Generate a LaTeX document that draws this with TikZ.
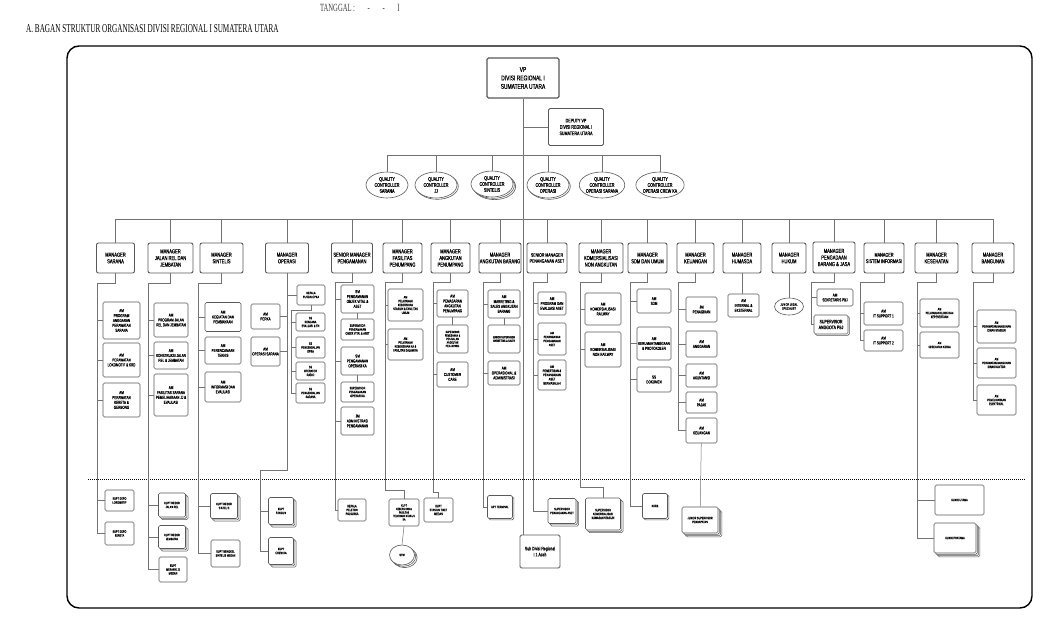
\documentclass[tikz,border=0pt]{standalone}
\usepackage{fontspec}
\setmainfont{Liberation Serif}
\newfontfamily\orgfont[FakeStretch=0.7,FakeBold=0.3]{Liberation Sans}
\newfontfamily\headfont[FakeStretch=0.6]{Liberation Serif}
\usetikzlibrary{shapes.geometric}
\usetikzlibrary{shadows}

\begin{document}
\begin{tikzpicture}[x=1pt,y=-1pt,
    every node/.style={inner sep=0pt,align=center},
    ln/.style={draw=black!55,line width=.5pt},
    box/.style={draw=black!65,line width=.6pt,rounded corners=1.5pt,fill=white,
        font=\orgfont\fontsize{4.3}{4.9}\selectfont},
    smalltxt/.style={font=\orgfont\fontsize{3.4}{3.9}\selectfont},
    mgr/.style={box,line width=.9pt,rounded corners=2pt,
        font=\orgfont\fontsize{5.8}{6.6}\selectfont},
    qc/.style={ellipse,draw=black!65,line width=.6pt,fill=white,
        minimum width=42pt,minimum height=26pt,
        font=\orgfont\fontsize{5.2}{6}\selectfont},
    wh/.style 2 args={minimum width=#1pt,minimum height=#2pt},
    stk1/.style={copy shadow={shadow xshift=1.3pt,shadow yshift=-1.3pt,
        opacity=1,fill=white,draw=black!65,line width=.6pt}},
    stk/.style={copy shadow={shadow xshift=2.6pt,shadow yshift=-2.6pt,
        opacity=1,fill=white,draw=black!65,line width=.6pt},stk1},
    stk3/.style={copy shadow={shadow xshift=3.9pt,shadow yshift=-3.9pt,
        opacity=1,fill=white,draw=black!65,line width=.6pt},stk}]

    \fill[white] (0,0) rectangle (1057,619);
    \useasboundingbox (0,0) rectangle (1057,619);

    \node[anchor=base west,text=black!75,font=\headfont\fontsize{11}{11}\selectfont] (tgl) at (320,11) {TANGGAL : \quad - \quad - \quad I};
    \node[anchor=west,font=\headfont\fontsize{12}{12}\selectfont] (title) at (26,29)
        {A. BAGAN STRUKTUR ORGANISASI DIVISI REGIONAL I SUMATERA UTARA};
    \draw[line width=1.4pt,rounded corners=12pt] (67,46) rectangle (1032,608);

    % pimpinan
    \node[box,wh={72}{40},line width=1.1pt,font=\orgfont\fontsize{7}{8.5}\selectfont] (vp) at (523,78)
        {VP\\DIVISI REGIONAL I\\SUMATERA UTARA};
    \node[box,wh={55}{37},line width=.9pt,font=\orgfont\fontsize{5.2}{6.4}\selectfont] (dvp) at (576,127)
        {DEPUTY VP\\DIVISI REGIONAL I\\SUMATERA UTARA};
    \coordinate (qcbus) at (0,155);
    \coordinate (mbus) at (0,219);

    \node[qc] (qc1) at (387,185) {QUALITY\\CONTROLLER\\SARANA};
    \node[qc,stk1] (qc2) at (436,185) {QUALITY\\CONTROLLER\\JJ};
    \node[qc,stk] (qc3) at (492,184) {QUALITY\\CONTROLLER\\SINTELIS};
    \node[qc,stk1] (qc4) at (548,185) {QUALITY\\CONTROLLER\\OPERASI};
    \node[qc] (qc5) at (602,185) {QUALITY\\CONTROLLER\\OPERASI SARANA};
    \node[qc] (qc6) at (660,185) {QUALITY\\CONTROLLER\\OPERASI CREW KA};

    % manager
    \node[mgr,wh={38}{30}] (sarana) at (115.5,258) {MANAGER\\SARANA};
    \node[mgr,wh={45}{30}] (jalanrel) at (170.5,258) {MANAGER\\JALAN REL DAN\\JEMBATAN};
    \node[mgr,wh={43}{30}] (sintelis) at (221.5,258) {MANAGER\\SINTELIS};
    \node[mgr,wh={43}{30}] (operasi) at (287,258) {MANAGER\\OPERASI};
    \node[mgr,wh={41}{30}] (pengamanan) at (352,258) {SENIOR MANAGER\\PENGAMANAN};
    \node[mgr,wh={39}{30}] (fasilitas) at (402.5,258) {MANAGER\\FASILITAS\\PENUMPANG};
    \node[mgr,wh={39}{30}] (angkpen) at (450.5,258) {MANAGER\\ANGKUTAN\\PENUMPANG};
    \node[mgr,wh={42}{30}] (angkbar) at (500,258) {MANAGER\\ANGKUTAN BARANG};
    \node[mgr,wh={40}{30},font=\orgfont\fontsize{5}{6}\selectfont] (penaset) at (547,258) {SENIOR MANAGER\\PENANGANAN ASET};
    \node[mgr,wh={44}{30}] (komersial) at (601,258) {MANAGER\\KOMERSIALISASI\\NON ANGKUTAN};
    \node[mgr,wh={39}{30}] (sdmumum) at (647.5,258) {MANAGER\\SDM DAN UMUM};
    \node[mgr,wh={37}{30}] (keuangan) at (695.5,258) {MANAGER\\KEUANGAN};
    \node[mgr,wh={38}{30}] (humasda) at (742,258) {MANAGER\\HUMASDA};
    \node[mgr,wh={34}{30}] (hukum) at (789,258) {MANAGER\\HUKUM};
    \node[mgr,wh={42}{31}] (pengadaan) at (834,257.5) {MANAGER\\PENGADAAN\\BARANG \& JASA};
    \node[mgr,wh={40}{30},font=\orgfont\fontsize{5.4}{6.4}\selectfont] (sisinfo) at (884,258) {MANAGER\\SISTEM INFORMASI};
    \node[mgr,wh={43}{30}] (kesehatan) at (936.5,258) {MANAGER\\KESEHATAN};
    \node[mgr,wh={42}{30}] (bangunan) at (993,258) {MANAGER\\BANGUNAN};

    \draw[dash pattern=on 1pt off 1pt,line width=.9pt] (88,479) -- (1025,479);

    % sarana
    \node[box,wh={37}{37}] (sar1) at (121.5,320.5) {AM\\PROGRAM\\ANGGARAN\\PERAWATAN\\SARANA};
    \node[box,wh={37}{34}] (sar2) at (121.5,360) {AM\\PERAWATAN\\LOKOMOTIF \& KRD};
    \node[box,wh={37}{34}] (sar3) at (121.5,400) {AM\\PERAWATAN\\KERETA \&\\GERBONG};
    \node[box,wh={29}{21},smalltxt] (sar4) at (119.5,500.5) {KUPT DEPO\\LOKOMOTIF};
    \node[box,wh={29}{23},smalltxt] (sar5) at (119.5,533.5) {KUPT DEPO\\KERETA};

    % jalan rel dan jembatan
    \node[box,wh={34}{34}] (jrj1) at (171,320) {AM\\PROGRAM JALAN\\REL DAN JEMBATAN};
    \node[box,wh={34}{27}] (jrj2) at (171,355.5) {AM\\KONSTRUKSI JALAN\\REL \& JEMBATAN};
    \node[box,wh={34}{42}] (jrj3) at (171,395) {AM\\FASILITAS SARANA\\PEMELIHARAAN JJ \&\\EVALUASI};
    \node[box,wh={27}{24},smalltxt,stk] (jrj4) at (172,505) {KUPT RESOR\\JALAN REL};
    \node[box,wh={27}{23},smalltxt,stk] (jrj5) at (172,537) {KUPT RESOR\\JEMBATAN};
    \node[box,wh={28}{25},smalltxt] (jrj6) at (173,569.5) {KUPT\\MEKANIK JJ\\MEDAN};

    % sintelis
    \node[box,wh={36}{29}] (snt1) at (223,317) {AM\\KEGIATAN DAN\\PEMBIAYAAN};
    \node[box,wh={36}{27}] (snt2) at (223,350.5) {AM\\PERENCANAAN\\TEKNIS};
    \node[box,wh={36}{30}] (snt3) at (223,387) {AM\\INFORMASI DAN\\EVALUASI};
    \node[box,wh={27}{25},smalltxt,stk] (snt4) at (224,506) {KUPT RESOR\\SINTELIS};
    \node[box,wh={29}{27},smalltxt] (snt5) at (225.5,553.5) {KUPT BENGKEL\\SINTELIS MEDAN};

    % operasi
    \node[box,wh={29}{25}] (ops1) at (265.5,316.5) {AM\\PERKA};
    \node[box,wh={29}{29}] (ops2) at (265.5,351.5) {AM\\OPERASI SARANA};
    \node[box,wh={28}{20},smalltxt] (ops3) at (311,295) {KEPALA\\PUSDALOPKA};
    \node[box,wh={29}{18},smalltxt] (ops4) at (310.5,322) {SS\\RENCANA\\EVALUASI \& TN};
    \node[box,wh={29}{21},smalltxt] (ops5) at (310.5,347.5) {SS\\PENGENDALIAN\\OPKA};
    \node[box,wh={29}{18},smalltxt] (ops6) at (310.5,371) {SS\\OPERATOR\\RADIO};
    \node[box,wh={29}{20},smalltxt] (ops7) at (310.5,393) {SS\\PENGENDALIAN\\SARANA};
    \node[box,wh={25}{27},smalltxt,stk] (ops8) at (281,511) {KUPT\\STASIUN};
    \node[box,wh={25}{27},smalltxt,stk] (ops9) at (281,551) {KUPT\\CREW KA};

    % pengamanan
    \node[box,wh={33}{28}] (pgm1) at (357.5,299) {SM\\PENGAMANAN\\OBJEK VITAL \&\\ASET};
    \node[box,wh={33}{21},smalltxt] (pgm2) at (357.5,329.5) {SUPERVISOR\\PENGAMANAN\\OBJEK VITAL \& ASET};
    \node[box,wh={33}{28}] (pgm3) at (357.5,361) {SM\\PENGAMANAN\\OPERASI KA};
    \node[box,wh={33}{20},smalltxt] (pgm4) at (357.5,392) {SUPERVISOR\\PENGAMANAN\\OPERASI KA};
    \node[box,wh={33}{28}] (pgm5) at (357.5,421) {JM\\ADMINISTRASI\\PENGAMANAN};
    \node[box,wh={28}{22},smalltxt] (pgm6) at (352,510) {KEPALA\\PELETON\\POLSUSKA};

    % fasilitas penumpang
    \node[box,wh={35}{32},smalltxt] (fas1) at (405.5,305) {AM\\PELAYANAN\\KEBERSIHAN\\STASIUN \& FASILITAS\\UMUM};
    \node[box,wh={35}{31},smalltxt] (fas2) at (405.5,344.5) {AM\\PELAYANAN\\KEBERSIHAN KA \&\\FASILITAS DALAM KA};
    \node[box,wh={30}{27},font=\orgfont\fontsize{3}{3.5}\selectfont] (fas3) at (404,512.5) {KUPT\\KEBERSIHAN \&\\FASILITAS\\PELAYANAN STASIUN\\KA};
    \node[ellipse,draw=black!65,line width=.6pt,fill=white,wh={25}{20},smalltxt,stk] (fas4) at (402,555) {STW};

    % angkutan penumpang
    \node[box,wh={31}{27}] (apn1) at (452.5,303.5) {AM\\PEMASARAN\\ANGKUTAN\\PENUMPANG};
    \node[box,wh={31}{28},font=\orgfont\fontsize{3}{3.5}\selectfont] (apn2) at (452.5,339) {SUPERVISOR\\PEMESANAN \&\\PENJUALAN\\ANGKUTAN\\PENUMPANG};
    \node[box,wh={31}{25}] (apn3) at (452.5,374.5) {AM\\CUSTOMER\\CARE};
    \node[box,wh={29}{24},smalltxt] (apn4) at (438.5,510) {KUPT\\STASIUN TIKET\\MEDAN};

    % angkutan barang
    \node[box,wh={32}{28}] (abr1) at (504,304) {AM\\MARKETING \&\\SALES ANGKUTAN\\BARANG};
    \node[box,wh={32}{28},font=\orgfont\fontsize{3}{3.5}\selectfont] (abr2) at (504,339) {JUNIOR SUPERVISOR\\MARKETING \& SALES};
    \node[box,wh={32}{24}] (abr3) at (504,373) {AM\\OPERASIONAL \&\\ADMINISTRASI};
    \node[box,wh={25}{23},smalltxt,stk1] (abr4) at (500,507) {UPT TERMINAL};

    % penanganan aset
    \node[box,wh={28}{23}] (pas1) at (552,303.5) {AM\\PROGRAM DAN\\EVALUASI ASET};
    \node[box,wh={28}{32},font=\orgfont\fontsize{3.4}{4}\selectfont] (pas2) at (552,339) {AM\\PENANGANAN\\PENGAMANAN\\ASET};
    \node[box,wh={28}{30},font=\orgfont\fontsize{3.6}{4.2}\selectfont] (pas3) at (552,375) {AM\\PENERTIBAN \&\\PENANGANAN\\ASET\\BERMASALAH};
    \node[box,wh={28}{25},smalltxt,stk] (pas4) at (562,511) {SUPERVISOR\\PENANGANAN ASET};
    \node[box,wh={40}{33},line width=.9pt,font=\orgfont\fontsize{5}{6}\selectfont] (sdr) at (540,551.5) {Sub Divisi Regional\\I.1 Aceh};

    % komersialisasi
    \node[box,wh={36}{32}] (kom1) at (603,309) {AM\\KOMERSIALISASI\\RAILWAY};
    \node[box,wh={36}{35}] (kom2) at (603,349.5) {AM\\KOMERSIALISASI\\NON RAILWAY};
    \node[box,wh={35}{32},smalltxt,stk] (kom3) at (603,514) {SUPERVISOR\\KOMERSIALISASI\\KAWASAN STASIUN};

    % sdm dan umum
    \node[box,wh={34}{24}] (sdm1) at (654,301) {AM\\SDM};
    \node[box,wh={34}{33}] (sdm2) at (654,343.5) {AM\\KERUMAHTANGGAAN\\\& PROTOKOLER};
    \node[box,wh={34}{25}] (sdm3) at (654,379.5) {SS\\DOKUMEN};
    \node[box,wh={25}{25},smalltxt,stk1] (sdm4) at (655,506) {KKRB};

    % keuangan
    \node[box,wh={31}{25}] (keu1) at (701.5,309.5) {JM\\PENAGIHAN};
    \node[box,wh={31}{26}] (keu2) at (701.5,344) {AM\\ANGGARAN};
    \node[box,wh={31}{23}] (keu3) at (701.5,375.5) {AM\\AKUNTANSI};
    \node[box,wh={31}{21}] (keu4) at (701.5,402.5) {AM\\PAJAK};
    \node[box,wh={31}{25}] (keu5) at (701.5,430.5) {AM\\KEUANGAN};
    \node[box,wh={36}{26},smalltxt,stk3] (keu6) at (700,520) {JUNIOR SUPERVISOR\\PENDAPATAN};

    % humasda, hukum
    \node[box,wh={31}{23}] (hum1) at (743.5,305.5) {AM\\INTERNAL \&\\EKSTERNAL};
    \node[ellipse,draw=black!65,line width=.6pt,fill=white,wh={29}{17},smalltxt] (huk1) at (789,306.5) {JUNIOR LEGAL\\SPECIALIST};

    % pengadaan barang dan jasa
    \node[box,wh={36}{17}] (pbj1) at (835,297.5) {AM\\SEKRETARIS PBJ};
    \node[box,wh={34}{19},font=\orgfont\fontsize{5}{5.8}\selectfont,stk1] (pbj2) at (831,324.5) {SUPERVISOR\\ANGGOTA PBJ};

    % sistem informasi
    \node[box,wh={39}{23}] (sif1) at (883.5,313.5) {AM\\IT SUPPORT 1};
    \node[box,wh={39}{21}] (sif2) at (883.5,340.5) {AM\\IT SUPPORT 2};

    % kesehatan
    \node[box,wh={39}{28},smalltxt] (kes1) at (939.5,313) {AM\\PELAYANAN KLINIK DAN\\KEPESERTAAN};
    \node[box,wh={39}{26},smalltxt] (kes2) at (939.5,345) {AM\\KESEHATAN KERJA};
    \node[box,wh={49}{30},smalltxt] (kes3) at (959.5,500) {KLINIK UTAMA};
    \node[box,wh={42}{30},smalltxt,stk3] (kes4) at (955,538) {KLINIK PRATAMA};

    % bangunan
    \node[box,wh={39}{33},smalltxt] (bgn1) at (996.5,326.5) {AM\\PERAWATAN BANGUNAN\\DINAS STASIUN};
    \node[box,wh={39}{30},smalltxt] (bgn2) at (996.5,363) {AM\\PERAWATAN BANGUNAN\\DINAS KANTOR};
    \node[box,wh={39}{30},smalltxt] (bgn3) at (996.5,400) {AM\\PEMELIHARAAN\\ELEKTRIKAL};

    % garis
    \coordinate (sar-sp) at (97,0);
    \coordinate (jrj-sp) at (148,0);
    \coordinate (snt-sp) at (198,0);
    \coordinate (ops-sp) at (260,470);
    \coordinate (opk-sp) at (291,0);
    \coordinate (pgm-sp) at (335,0);
    \coordinate (fas-sp) at (385,490);
    \coordinate (apn-sp) at (433,492);
    \coordinate (abr-sp) at (483,0);
    \coordinate (pas-sp) at (533,0);
    \coordinate (kom-sp) at (580,487);
    \coordinate (sdm-sp) at (630,0);
    \coordinate (keu-sp) at (678,0);
    \coordinate (pbj-sp) at (811,0);
    \coordinate (sif-sp) at (860,0);
    \coordinate (kes-sp) at (917,0);
    \coordinate (bgn-sp) at (973,0);

    \draw[ln] (vp.south) -- (vp.south |- sdr.north);
    \draw[ln] (vp.south |- dvp.west) -- (dvp.west);
    \draw[ln] (qc1.north |- qcbus) -- (qc6.north |- qcbus);
    \foreach \n in {qc1,qc2,qc3,qc4,qc5,qc6}
        \draw[ln] (\n.north) -- (\n.north |- qcbus);
    \draw[ln] (sarana.north |- mbus) -- (bangunan.north |- mbus);
    \foreach \n in {sarana,jalanrel,sintelis,operasi,pengamanan,fasilitas,angkpen,angkbar,penaset,
        komersial,sdmumum,keuangan,humasda,hukum,pengadaan,sisinfo,kesehatan,bangunan}
        \draw[ln] (\n.north) -- (\n.north |- mbus);

    \draw[ln] (sarana.south) -- ++(0,10) -| (sar5.west -| sar-sp);
    \foreach \n in {sar1,sar2,sar3,sar4,sar5}
        \draw[ln] (\n.west) -- (\n.west -| sar-sp);

    \draw[ln] (jalanrel.south) -- ++(0,10) -| (jrj6.west -| jrj-sp);
    \foreach \n in {jrj1,jrj2,jrj3,jrj4,jrj5,jrj6}
        \draw[ln] (\n.west) -- (\n.west -| jrj-sp);

    \draw[ln] (sintelis.south) -- ++(0,10) -| (snt5.west -| snt-sp);
    \foreach \n in {snt1,snt2,snt3,snt4,snt5}
        \draw[ln] (\n.west) -- (\n.west -| snt-sp);

    \draw[ln] (operasi.south) -- (operasi.south |- ops-sp) -- (ops-sp) -- (ops9.west -| ops-sp);
    \foreach \n in {ops1,ops2}
        \draw[ln] (\n.east) -- (\n.east -| operasi.south);
    \draw[ln] (ops3.west) -- (ops3.west -| operasi.south);
    \draw[ln] (ops3.south) -- ++(0,5) -| (ops7.west -| opk-sp);
    \foreach \n in {ops4,ops5,ops6,ops7}
        \draw[ln] (\n.west) -- (\n.west -| opk-sp);
    \foreach \n in {ops8,ops9}
        \draw[ln] (\n.west) -- (\n.west -| ops-sp);

    \draw[ln] (pengamanan.south) -- ++(0,9) -| (pgm6.west -| pgm-sp);
    \foreach \n in {pgm1,pgm3,pgm5,pgm6}
        \draw[ln] (\n.west) -- (\n.west -| pgm-sp);
    \draw[ln] (pgm1) -- (pgm2);
    \draw[ln] (pgm3) -- (pgm4);

    \draw[ln] (fasilitas.south) -- ++(0,9) -| (fas-sp) -| (fas3.north);
    \foreach \n in {fas1,fas2}
        \draw[ln] (\n.west) -- (\n.west -| fas-sp);
    \draw[ln] (fas3.south) -- (fas4.north);

    \draw[ln] (angkpen.south) -- ++(0,9) -| (apn-sp) -| (apn4.north);
    \foreach \n in {apn1,apn3}
        \draw[ln] (\n.west) -- (\n.west -| apn-sp);
    \draw[ln] (apn1) -- (apn2);

    \draw[ln] (angkbar.south) -- ++(0,9) -| (abr4.west -| abr-sp);
    \foreach \n in {abr1,abr3,abr4}
        \draw[ln] (\n.west) -- (\n.west -| abr-sp);
    \draw[ln] (abr1) -- (abr2);

    \draw[ln] (penaset.south) -- ++(0,9) -| (pas4.west -| pas-sp);
    \foreach \n in {pas1,pas2,pas3,pas4}
        \draw[ln] (\n.west) -- (\n.west -| pas-sp);

    \draw[ln] (komersial.south) -- ++(0,9) -| (kom-sp) -| (kom3.north);
    \foreach \n in {kom1,kom2}
        \draw[ln] (\n.west) -- (\n.west -| kom-sp);

    \draw[ln] (sdmumum.south) -- ++(0,9) -| (sdm4.west -| sdm-sp);
    \foreach \n in {sdm1,sdm2,sdm3,sdm4}
        \draw[ln] (\n.west) -- (\n.west -| sdm-sp);

    \draw[ln] (keuangan.south) -- ++(0,9) -| (keu5.west -| keu-sp);
    \foreach \n in {keu1,keu2,keu3,keu4,keu5}
        \draw[ln] (\n.west) -- (\n.west -| keu-sp);
    \draw[ln] (keu5) -- (keu6);

    \draw[ln] (humasda.south) -- (hum1.north -| humasda.south);
    \draw[ln] (hukum.south) -- (huk1.north);

    \draw[ln] (pengadaan.south) -- ++(0,9) -| (pbj2.west -| pbj-sp);
    \foreach \n in {pbj1,pbj2}
        \draw[ln] (\n.west) -- (\n.west -| pbj-sp);

    \draw[ln] (sisinfo.south) -- ++(0,9) -| (sif2.west -| sif-sp);
    \foreach \n in {sif1,sif2}
        \draw[ln] (\n.west) -- (\n.west -| sif-sp);

    \draw[ln] (kesehatan.south) -- ++(0,9) -| (kes4.west -| kes-sp);
    \foreach \n in {kes1,kes2,kes3,kes4}
        \draw[ln] (\n.west) -- (\n.west -| kes-sp);

    \draw[ln] (bangunan.south) -- ++(0,9) -| (bgn3.west -| bgn-sp);
    \foreach \n in {bgn1,bgn2,bgn3}
        \draw[ln] (\n.west) -- (\n.west -| bgn-sp);
\end{tikzpicture}
\end{document}
